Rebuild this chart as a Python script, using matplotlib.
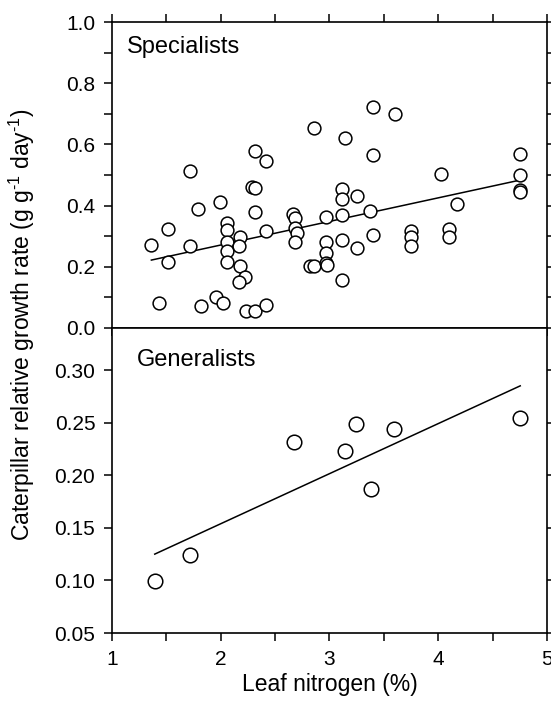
import numpy as np
import matplotlib.pyplot as plt
from matplotlib.ticker import MultipleLocator

plt.rcParams['font.family'] = ['Liberation Sans', 'DejaVu Sans']
plt.rcParams['mathtext.fontset'] = 'custom'
plt.rcParams['mathtext.rm'] = 'Liberation Sans'
plt.rcParams['mathtext.it'] = 'Liberation Sans:italic'

# === Specialists: leaf nitrogen (%) vs relative growth rate ===
spec_n = [2.858, 2.318, 2.419, 1.719, 2.287, 2.318, 1.793, 1.992, 2.318,
          2.056, 2.056, 2.056, 2.056, 2.056, 1.516, 1.362, 1.719, 1.516,
          2.173, 2.164, 2.173, 2.226, 2.170, 2.419, 2.668, 2.683, 2.683,
          2.699, 2.683, 2.818, 2.862, 1.436, 1.820, 1.952, 2.020, 2.235,
          2.318, 2.416,
          3.396, 3.599, 3.144, 3.396, 4.748, 4.748, 4.748, 4.748, 4.023,
          4.171, 3.116, 3.116, 3.249, 2.972, 3.116, 3.371, 3.396, 3.116,
          3.249, 2.972, 2.972, 2.972, 2.980, 3.116, 3.746, 3.746, 3.746,
          4.100, 4.100]
spec_rgr = [0.655, 0.578, 0.547, 0.514, 0.462, 0.456, 0.389, 0.413, 0.379,
            0.344, 0.320, 0.282, 0.253, 0.215, 0.325, 0.271, 0.268, 0.217,
            0.298, 0.269, 0.203, 0.168, 0.149, 0.318, 0.371, 0.358, 0.326,
            0.311, 0.282, 0.204, 0.204, 0.083, 0.073, 0.102, 0.083, 0.057,
            0.057, 0.076,
            0.723, 0.700, 0.621, 0.565, 0.568, 0.500, 0.451, 0.445, 0.502,
            0.405, 0.454, 0.423, 0.431, 0.362, 0.369, 0.382, 0.304, 0.288,
            0.260, 0.282, 0.244, 0.211, 0.205, 0.157, 0.318, 0.298, 0.268,
            0.322, 0.298]
spec_fit_n = [1.362, 4.748]
spec_fit_rgr = [0.222, 0.483]

# === Generalists ===
gen_n = [1.393, 1.719, 2.671, 3.144, 3.245, 3.378, 3.596, 4.748]
gen_rgr = [0.099, 0.124, 0.232, 0.223, 0.249, 0.187, 0.244, 0.254]
gen_fit_n = [1.393, 4.754]
gen_fit_rgr = [0.125, 0.285]

fig = plt.figure(figsize=(5.51, 7.01), dpi=100)
left, width = 0.2033, 0.7894
ax1 = fig.add_axes([left, 0.5321, width, 0.4365])
ax2 = fig.add_axes([left, 0.0970, width, 0.4351])

ax1.plot(spec_n, spec_rgr, 'o', mfc='white', mec='black', mew=1.1, ms=9.2,
         linestyle='none', zorder=3)
ax1.plot(spec_fit_n, spec_fit_rgr, color='black', lw=1.1, zorder=2)
ax2.plot(gen_n, gen_rgr, 'o', mfc='white', mec='black', mew=1.1, ms=10.5,
         linestyle='none', zorder=3)
ax2.plot(gen_fit_n, gen_fit_rgr, color='black', lw=1.1, zorder=2)

ax1.set_xlim(1, 5)
ax1.set_ylim(0, 1.0)
ax2.set_xlim(1, 5)
ax2.set_ylim(0.05, 0.34)

for ax in (ax1, ax2):
    ax.xaxis.set_major_locator(MultipleLocator(1))
    ax.xaxis.set_minor_locator(MultipleLocator(0.5))
    for s in ax.spines.values():
        s.set_linewidth(1.2)
    ax.tick_params(which='both', direction='out', length=6, width=1.1,
                   labelsize=15, right=True, pad=6)

ax1.yaxis.set_major_locator(MultipleLocator(0.2))
ax1.yaxis.set_minor_locator(MultipleLocator(0.1))
ax1.yaxis.set_major_formatter(plt.FormatStrFormatter('%.1f'))
ax1.tick_params(which='both', top=True, bottom=True, labelbottom=False)

ax2.yaxis.set_major_formatter(plt.FormatStrFormatter('%.2f'))
ax2.tick_params(which='both', top=False, bottom=True)
ax2.set_yticks([0.05, 0.10, 0.15, 0.20, 0.25, 0.30])

ax1.text(0.035, 0.955, 'Specialists', transform=ax1.transAxes,
         fontsize=17, va='top', ha='left')
ax2.text(0.057, 0.93, 'Generalists', transform=ax2.transAxes,
         fontsize=17, va='top', ha='left')

ax2.set_xlabel('Leaf nitrogen (%)', fontsize=16.5, labelpad=3)
fig.text(0.040, 0.537,
         r'Caterpillar relative growth rate (g g$^{\text{-1}}$ day$^{\text{-1}}$)',
         rotation=90, fontsize=16.5, ha='center', va='center')

fig.savefig('out.png', dpi=100)
